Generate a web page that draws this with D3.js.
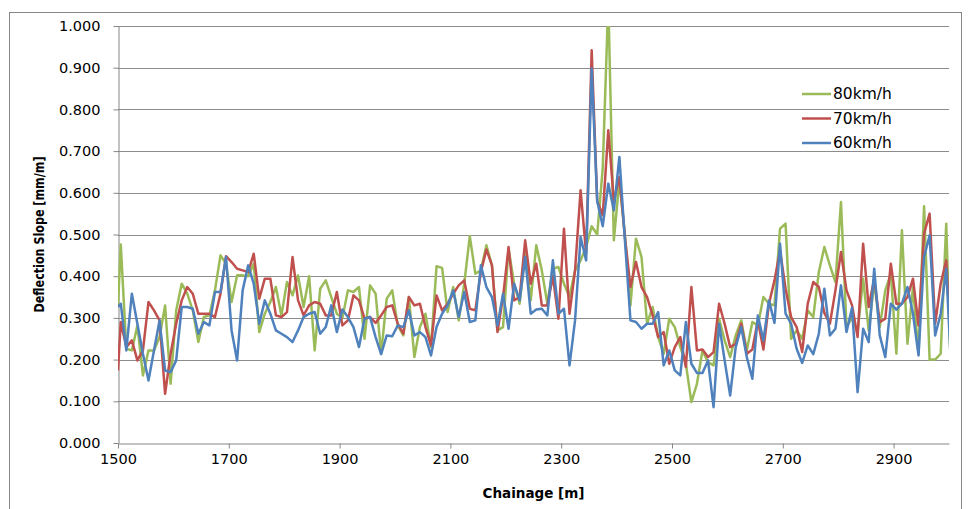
<!DOCTYPE html>
<html lang="en">
<head>
<meta charset="utf-8">
<title>Deflection Slope by Chainage</title>
<script src="https://d3js.org/d3.v7.min.js"></script>
<style>
body { margin: 0; background: #fff; }
.axis text { font-family: "DejaVu Sans", Verdana, sans-serif; font-size: 14.5px; fill: #000; }
.legend text { font-family: "DejaVu Sans", Verdana, sans-serif; font-size: 15.5px; fill: #000; }
.axis path, .axis line { stroke: #868686; }
.grid line { stroke: #8c8c8c; stroke-width: 1; }
.title { font-family: "DejaVu Sans", sans-serif; font-weight: bold; fill: #000; }
</style>
</head>
<body>
<svg width="970" height="509"></svg>
<script>

// chainage of each reading [m]
var chainage = [1500,
  1505, 1515, 1525, 1535, 1545, 1555, 1565, 1575, 1585, 1595,
  1605, 1615, 1625, 1635, 1645, 1655, 1665, 1675, 1685, 1695,
  1705, 1715, 1725, 1735, 1745, 1755, 1765, 1775, 1785, 1795,
  1805, 1815, 1825, 1835, 1845, 1855, 1865, 1875, 1885, 1895,
  1905, 1915, 1925, 1935, 1945, 1955, 1965, 1975, 1985, 1995,
  2005, 2015, 2025, 2035, 2045, 2055, 2065, 2075, 2085, 2095,
  2105, 2115, 2125, 2135, 2145, 2155, 2165, 2175, 2185, 2195,
  2205, 2215, 2225, 2235, 2245, 2255, 2265, 2275, 2285, 2295,
  2305, 2315, 2325, 2335, 2345, 2355, 2365, 2375, 2385, 2395,
  2405, 2415, 2425, 2435, 2445, 2455, 2465, 2475, 2485, 2495,
  2505, 2515, 2525, 2535, 2545, 2555, 2565, 2575, 2585, 2595,
  2605, 2615, 2625, 2635, 2645, 2655, 2665, 2675, 2685, 2695,
  2705, 2715, 2725, 2735, 2745, 2755, 2765, 2775, 2785, 2795,
  2805, 2815, 2825, 2835, 2845, 2855, 2865, 2875, 2885, 2895,
  2905, 2915, 2925, 2935, 2945, 2955, 2965, 2975, 2985, 2995,
  3005];

var kmh80 = [0.330,
  0.476, 0.226, 0.222, 0.282, 0.162, 0.222, 0.222, 0.254, 0.330, 0.142,
  0.318, 0.382, 0.358, 0.318, 0.242, 0.302, 0.306, 0.366, 0.450, 0.430,
  0.338, 0.402, 0.402, 0.400, 0.430, 0.266, 0.310, 0.338, 0.374, 0.306,
  0.386, 0.354, 0.402, 0.326, 0.400, 0.222, 0.370, 0.390, 0.350, 0.310,
  0.300, 0.366, 0.362, 0.374, 0.250, 0.378, 0.358, 0.214, 0.346, 0.366,
  0.282, 0.258, 0.350, 0.206, 0.278, 0.310, 0.230, 0.424, 0.420, 0.314,
  0.374, 0.294, 0.382, 0.496, 0.406, 0.414, 0.474, 0.426, 0.270, 0.278,
  0.466, 0.382, 0.334, 0.454, 0.342, 0.474, 0.414, 0.334, 0.418, 0.422,
  0.382, 0.350, 0.414, 0.438, 0.470, 0.520, 0.500, 0.660, 1.060, 0.486,
  0.630, 0.500, 0.330, 0.490, 0.446, 0.286, 0.326, 0.254, 0.214, 0.298,
  0.278, 0.230, 0.190, 0.098, 0.142, 0.222, 0.194, 0.186, 0.298, 0.246,
  0.206, 0.258, 0.294, 0.222, 0.290, 0.282, 0.350, 0.334, 0.330, 0.514,
  0.526, 0.250, 0.270, 0.250, 0.318, 0.302, 0.410, 0.470, 0.426, 0.386,
  0.578, 0.278, 0.300, 0.266, 0.394, 0.270, 0.386, 0.278, 0.366, 0.406,
  0.214, 0.510, 0.238, 0.374, 0.214, 0.568, 0.200, 0.200, 0.214, 0.526,
  0.100];

var kmh70 = [0.174,
  0.290, 0.230, 0.246, 0.198, 0.222, 0.338, 0.318, 0.294, 0.118, 0.214,
  0.286, 0.342, 0.374, 0.358, 0.310, 0.310, 0.310, 0.302, 0.358, 0.448,
  0.434, 0.418, 0.414, 0.410, 0.454, 0.346, 0.394, 0.394, 0.306, 0.302,
  0.314, 0.446, 0.342, 0.306, 0.330, 0.338, 0.334, 0.306, 0.306, 0.362,
  0.282, 0.294, 0.354, 0.342, 0.298, 0.302, 0.288, 0.306, 0.326, 0.330,
  0.286, 0.262, 0.350, 0.330, 0.334, 0.278, 0.234, 0.354, 0.318, 0.334,
  0.358, 0.378, 0.390, 0.322, 0.318, 0.410, 0.464, 0.426, 0.266, 0.350,
  0.470, 0.342, 0.350, 0.486, 0.382, 0.430, 0.330, 0.330, 0.400, 0.298,
  0.514, 0.310, 0.414, 0.606, 0.454, 0.942, 0.580, 0.546, 0.750, 0.580,
  0.638, 0.494, 0.374, 0.434, 0.374, 0.350, 0.306, 0.254, 0.266, 0.190,
  0.230, 0.254, 0.182, 0.374, 0.222, 0.224, 0.206, 0.218, 0.334, 0.286,
  0.230, 0.238, 0.286, 0.214, 0.224, 0.294, 0.224, 0.334, 0.390, 0.462,
  0.370, 0.302, 0.278, 0.218, 0.334, 0.386, 0.374, 0.312, 0.286, 0.366,
  0.458, 0.366, 0.330, 0.254, 0.478, 0.326, 0.394, 0.290, 0.298, 0.430,
  0.334, 0.334, 0.350, 0.394, 0.282, 0.502, 0.550, 0.286, 0.382, 0.438,
  0.200];

var kmh60 = [0.326,
  0.334, 0.222, 0.358, 0.286, 0.214, 0.150, 0.222, 0.294, 0.174, 0.170,
  0.198, 0.326, 0.326, 0.322, 0.262, 0.290, 0.282, 0.362, 0.362, 0.446,
  0.270, 0.198, 0.366, 0.426, 0.382, 0.286, 0.342, 0.310, 0.270, 0.262,
  0.254, 0.242, 0.270, 0.302, 0.310, 0.314, 0.262, 0.278, 0.330, 0.266,
  0.320, 0.302, 0.278, 0.230, 0.298, 0.302, 0.254, 0.213, 0.258, 0.256,
  0.282, 0.278, 0.318, 0.258, 0.266, 0.254, 0.210, 0.278, 0.310, 0.330,
  0.366, 0.302, 0.362, 0.290, 0.294, 0.426, 0.374, 0.350, 0.282, 0.358,
  0.274, 0.382, 0.342, 0.446, 0.310, 0.320, 0.322, 0.306, 0.438, 0.310,
  0.322, 0.186, 0.294, 0.494, 0.438, 0.898, 0.580, 0.520, 0.622, 0.558,
  0.686, 0.486, 0.294, 0.290, 0.274, 0.286, 0.286, 0.314, 0.186, 0.222,
  0.174, 0.162, 0.290, 0.190, 0.168, 0.168, 0.198, 0.086, 0.286, 0.198,
  0.114, 0.230, 0.278, 0.206, 0.154, 0.306, 0.246, 0.342, 0.288, 0.478,
  0.310, 0.286, 0.226, 0.192, 0.234, 0.213, 0.262, 0.370, 0.258, 0.274,
  0.378, 0.266, 0.324, 0.122, 0.274, 0.242, 0.418, 0.258, 0.206, 0.334,
  0.320, 0.334, 0.374, 0.310, 0.210, 0.446, 0.498, 0.258, 0.310, 0.418,
  0.150];

var seriesNames = ["80km/h", "70km/h", "60km/h"];
var seriesColors = ["#9bbb59", "#c0504d", "#4f81bd"];
var xTicks = [1500, 1700, 1900, 2100, 2300, 2500, 2700, 2900];
var yTicks = [0, 0.1, 0.2, 0.3, 0.4, 0.5, 0.6, 0.7, 0.8, 0.9, 1.0];

var svg = d3.select("svg"),
    plotL = 118, plotR = 949, plotT = 26, plotB = 443;

var x = d3.scaleLinear().domain([1500, 3000]).range([plotL, plotR]),
    y = d3.scaleLinear().domain([0, 1]).range([plotB, plotT]);

// chart area border
svg.append("rect")
    .attr("x", 9.5).attr("y", 12.5)
    .attr("width", 952).attr("height", 530)
    .attr("fill", "none")
    .attr("stroke", "#868686");

// gridlines
svg.append("g")
    .attr("class", "grid")
  .selectAll("line")
  .data(yTicks.slice(1))
  .enter().append("line")
    .attr("x1", plotL).attr("x2", plotR)
    .attr("y1", function(d) { return Math.round(y(d)) + 0.5; })
    .attr("y2", function(d) { return Math.round(y(d)) + 0.5; });

svg.append("g")
    .attr("class", "axis")
    .attr("transform", "translate(" + (plotL + 0.5) + ",0)")
    .call(d3.axisLeft(y).tickValues(yTicks).tickFormat(d3.format(".3f"))
      .tickSize(5).tickSizeOuter(0).tickPadding(13));

svg.append("g")
    .attr("class", "axis")
    .attr("transform", "translate(0," + (plotB + 0.5) + ")")
    .call(d3.axisBottom(x).tickValues(xTicks).tickFormat(d3.format("d"))
      .tickSize(5).tickSizeOuter(0).tickPadding(5));

svg.append("clipPath")
    .attr("id", "plot")
  .append("rect")
    .attr("x", plotL).attr("y", plotT)
    .attr("width", plotR - plotL).attr("height", plotB - plotT);

var line = d3.line()
    .x(function(d) { return x(d[0]); })
    .y(function(d) { return y(d[1]); });

var series = [kmh80, kmh70, kmh60];

svg.append("g")
    .attr("clip-path", "url(#plot)")
  .selectAll("path")
  .data(series)
  .enter().append("path")
    .attr("d", function(s) { return line(d3.zip(chainage, s)); })
    .attr("fill", "none")
    .attr("stroke", function(s, i) { return seriesColors[i]; })
    .attr("stroke-width", 2.5)
    .attr("stroke-linejoin", "round");

// legend
var legend = svg.append("g")
    .attr("class", "legend")
  .selectAll("g")
  .data(seriesNames)
  .enter().append("g")
    .attr("transform", function(d, i) { return "translate(802," + (94 + i * 24.5) + ")"; });

legend.append("line")
    .attr("x1", 0).attr("x2", 29)
    .attr("stroke", function(d, i) { return seriesColors[i]; })
    .attr("stroke-width", 2.5);

legend.append("text")
    .attr("x", 31)
    .attr("dy", "0.35em")
    .text(function(d) { return d; });

// axis titles
svg.append("text")
    .attr("class", "title")
    .attr("transform", "translate(39," + ((plotT + plotB) / 2) + ") rotate(-90)")
    .attr("text-anchor", "middle")
    .attr("dy", "0.35em")
    .attr("font-size", "13.5px")
    .attr("textLength", 156)
    .attr("lengthAdjust", "spacingAndGlyphs")
    .text("Deflection Slope [mm/m]");

svg.append("text")
    .attr("class", "title")
    .attr("x", (plotL + plotR) / 2)
    .attr("y", 493)
    .attr("text-anchor", "middle")
    .attr("dy", "0.35em")
    .attr("font-size", "13.5px")
    .text("Chainage [m]");

</script>
</body>
</html>
